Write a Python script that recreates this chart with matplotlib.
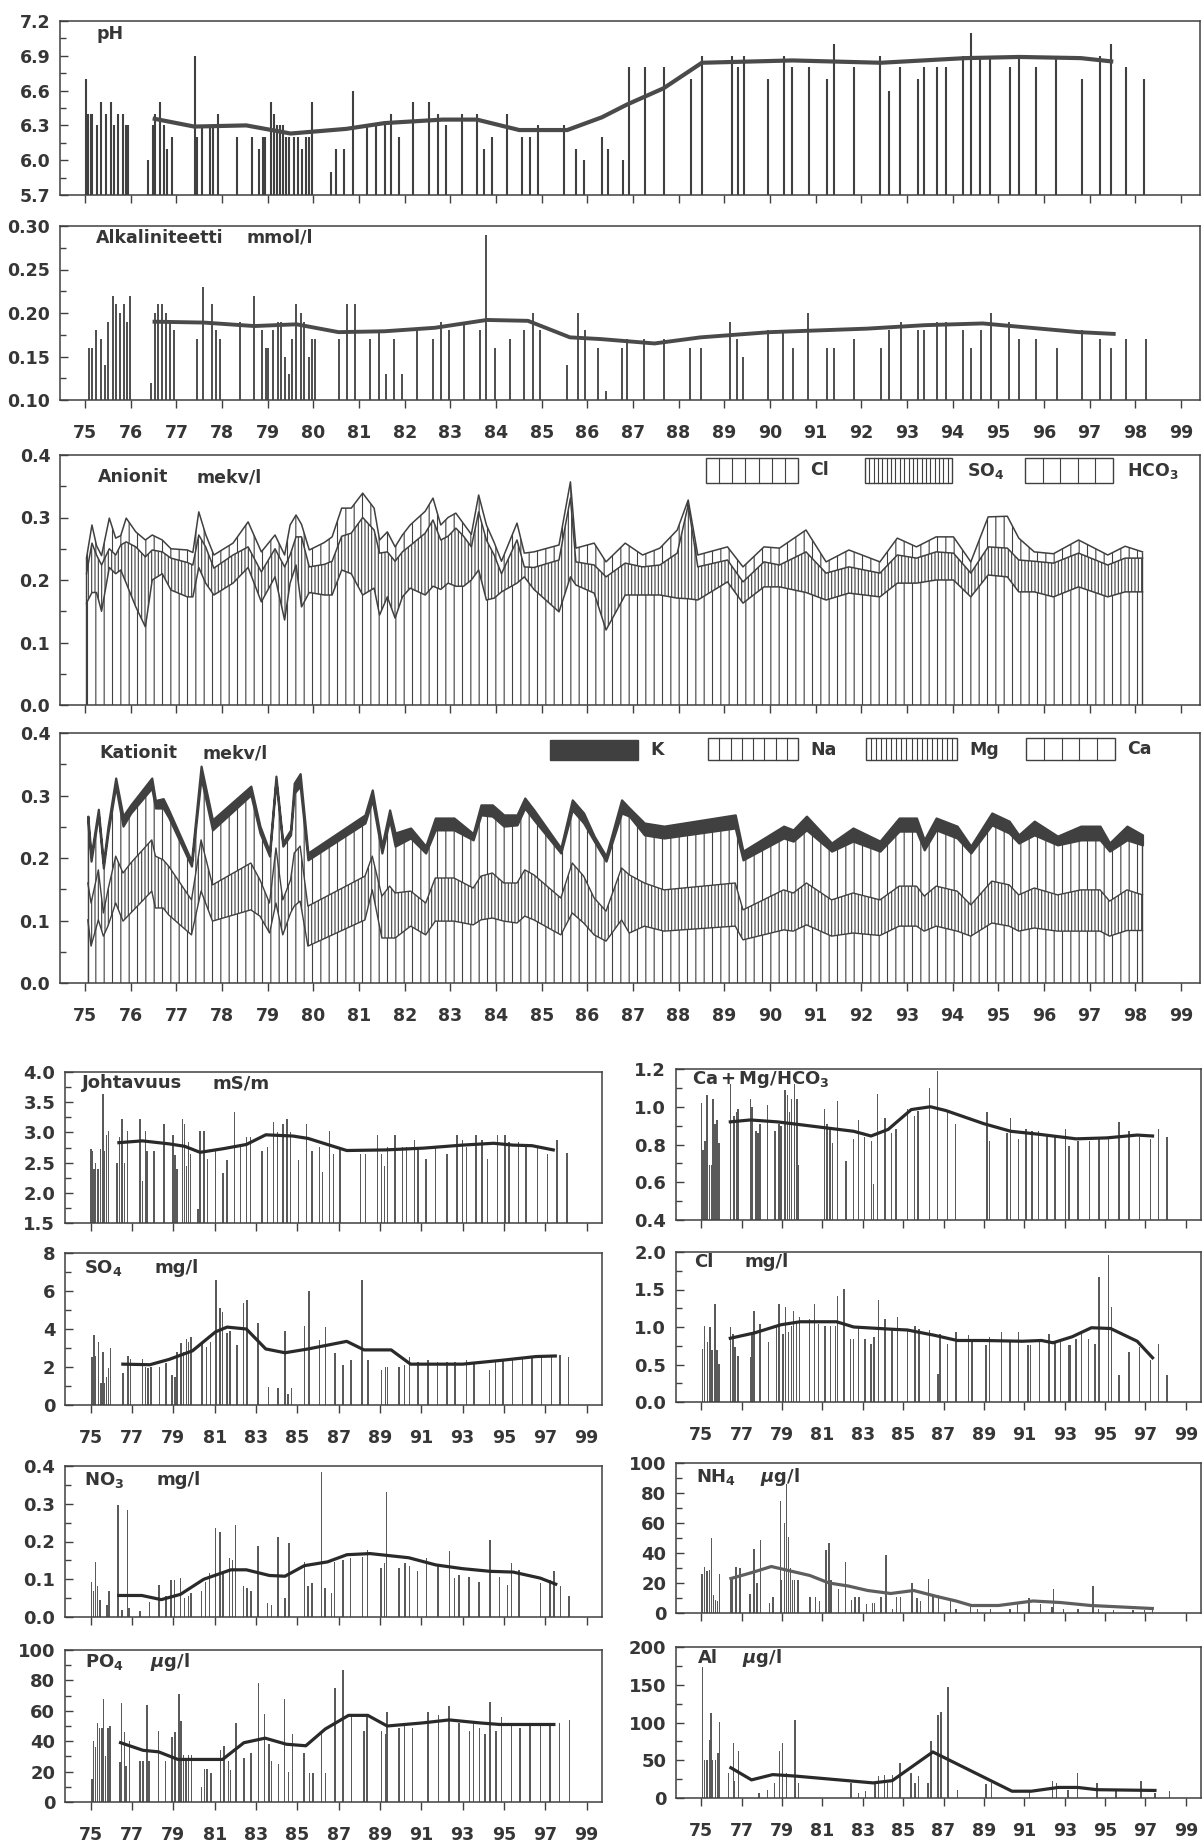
import numpy as np
import matplotlib
matplotlib.use("Agg")
import matplotlib.pyplot as plt
from matplotlib.patches import Rectangle
from matplotlib.lines import Line2D

W, H = 1202, 1843
INK = "#404040"
TXT = "#363636"
BAR = "#5a5a5a"
TREND = "#2a2a2a"

plt.rcParams.update({
    "font.family": ["DejaVu Sans"],
    "font.weight": "bold",
    "hatch.linewidth": 0.8,
    "hatch.color": INK,
    "mathtext.fontset": "dejavusans",
})

# ---------------- pH ----------------
ph_year = [75.01, 75.06, 75.12, 75.16, 75.26, 75.35, 75.45, 75.56, 75.63, 75.73, 75.82, 75.89, 75.95,
           76.38, 76.48, 76.54, 76.64, 76.73, 76.80, 76.90,
           77.40, 77.46, 77.55, 77.73, 77.81, 77.90,
           78.33, 78.66, 78.80, 78.90, 78.95,
           79.08, 79.14, 79.20, 79.26, 79.33, 79.39, 79.46, 79.58, 79.67, 79.75, 79.84, 79.90, 79.98,
           80.38, 80.49, 80.68, 80.87,
           81.18, 81.38, 81.56, 81.71, 81.88,
           82.19, 82.54, 82.74, 82.91,
           83.25, 83.58, 83.74, 83.92,
           84.24, 84.58, 84.75, 84.93,
           85.50, 85.75, 85.92, 86.32, 86.45, 86.78, 86.91,
           87.27, 87.69, 88.28, 88.51,
           89.17, 89.29, 89.43, 89.96, 90.30, 90.49, 90.85, 91.25, 91.41, 91.84,
           92.42, 92.60, 92.85, 93.25, 93.38, 93.65, 93.86, 94.22, 94.40, 94.61, 94.83,
           95.25, 95.46, 95.82, 96.27, 96.83, 97.23, 97.46, 97.81, 98.20]
ph_value = [6.7, 6.4, 6.4, 6.4, 6.3, 6.5, 6.4, 6.5, 6.3, 6.4, 6.4, 6.3, 6.3,
            6.0, 6.3, 6.4, 6.5, 6.3, 6.1, 6.2,
            6.9, 6.2, 6.3, 6.3, 6.3, 6.4,
            6.2, 6.2, 6.1, 6.2, 6.2,
            6.5, 6.4, 6.3, 6.3, 6.3, 6.2, 6.2, 6.2, 6.2, 6.1, 6.2, 6.2, 6.5,
            5.9, 6.1, 6.1, 6.6,
            6.3, 6.3, 6.3, 6.4, 6.2,
            6.5, 6.5, 6.4, 6.3,
            6.4, 6.4, 6.1, 6.2,
            6.4, 6.2, 6.2, 6.3,
            6.3, 6.1, 6.0, 6.2, 6.1, 6.0, 6.8,
            6.8, 6.8, 6.7, 6.9,
            6.9, 6.8, 6.9, 6.7, 6.9, 6.8, 6.8, 6.7, 7.0, 6.8,
            6.9, 6.6, 6.8, 6.7, 6.8, 6.8, 6.8, 6.9, 7.1, 6.9, 6.9,
            6.8, 6.9, 6.8, 6.9, 6.7, 6.9, 7.0, 6.8, 6.7]
ph_trend_year = [76.48, 77.39, 78.53, 79.50, 80.72, 81.56, 82.83, 83.58, 84.51, 85.56, 86.32,
                 86.87, 87.67, 88.51, 90.49, 92.43, 94.28, 95.46, 96.81, 97.52]
ph_trend = [6.36, 6.29, 6.30, 6.23, 6.27, 6.32, 6.35, 6.35, 6.26, 6.26, 6.37,
            6.48, 6.62, 6.84, 6.86, 6.84, 6.88, 6.89, 6.88, 6.85]
ph_ticks = [5.7, 6.0, 6.3, 6.6, 6.9, 7.2]

# ---------------- Alkalinity ----------------
alk_year = [75.09, 75.16, 75.24, 75.35, 75.43, 75.51, 75.60, 75.68, 75.77, 75.85, 75.92, 75.99,
            76.44, 76.52, 76.59, 76.68, 76.78, 76.85, 76.94,
            77.45, 77.59, 77.77, 77.86, 77.96,
            78.39, 78.71, 78.87, 78.97, 79.01, 79.12, 79.22, 79.29, 79.37, 79.47, 79.54, 79.63, 79.73, 79.79, 79.90, 79.98, 80.03,
            80.57, 80.74, 80.91, 81.24, 81.44, 81.60, 81.77, 81.94,
            82.26, 82.62, 82.80, 82.97, 83.29, 83.64, 83.78, 83.98,
            84.30, 84.62, 84.80, 84.97, 85.55, 85.79, 85.96,
            86.24, 86.41, 86.75, 86.87, 87.25, 87.68, 88.25, 88.48,
            89.13, 89.27, 89.41, 89.96, 90.28, 90.50, 90.83, 91.26, 91.40, 91.84,
            92.44, 92.60, 92.86, 93.24, 93.37, 93.66, 93.85, 94.23, 94.40, 94.63, 94.84,
            95.24, 95.45, 95.82, 96.28, 96.83, 97.24, 97.47, 97.80, 98.23]
alk_value = [0.16, 0.16, 0.18, 0.17, 0.14, 0.19, 0.22, 0.21, 0.20, 0.21, 0.19, 0.22,
             0.12, 0.20, 0.21, 0.21, 0.20, 0.19, 0.18,
             0.17, 0.23, 0.21, 0.18, 0.17,
             0.19, 0.22, 0.18, 0.16, 0.16, 0.18, 0.19, 0.19, 0.15, 0.13, 0.17, 0.21, 0.20, 0.19, 0.15, 0.17, 0.17,
             0.17, 0.21, 0.21, 0.17, 0.18, 0.13, 0.17, 0.13,
             0.18, 0.17, 0.19, 0.18, 0.19, 0.18, 0.29, 0.16,
             0.17, 0.18, 0.20, 0.18, 0.14, 0.20, 0.18,
             0.16, 0.11, 0.16, 0.17, 0.17, 0.17, 0.16, 0.16,
             0.19, 0.17, 0.15, 0.18, 0.18, 0.16, 0.20, 0.16, 0.16, 0.17,
             0.16, 0.18, 0.19, 0.18, 0.18, 0.19, 0.19, 0.18, 0.16, 0.18, 0.20,
             0.19, 0.17, 0.17, 0.16, 0.18, 0.17, 0.16, 0.17, 0.17]
alk_trend_year = [76.52, 77.60, 78.70, 79.63, 80.55, 81.56, 82.66, 83.80, 84.70, 85.62, 86.30,
                  87.47, 88.48, 90.00, 92.12, 93.39, 94.66, 95.50, 96.77, 97.53]
alk_trend = [0.190, 0.189, 0.185, 0.187, 0.178, 0.179, 0.183, 0.192, 0.191, 0.172, 0.170,
             0.165, 0.172, 0.178, 0.182, 0.186, 0.188, 0.184, 0.178, 0.176]
alk_ticks = [0.10, 0.15, 0.20, 0.25, 0.30]

# ---------------- Anions (mekv/l) ----------------
anion_year = [75.03, 75.15, 75.25, 75.36, 75.53, 75.67, 75.78, 75.90, 76.11, 76.32, 76.47, 76.69, 76.88,
              77.24, 77.36, 77.49, 77.64, 77.82, 78.24, 78.57, 78.86, 79.16, 79.37, 79.49, 79.62, 79.74,
              79.91, 80.24, 80.41, 80.62, 80.83, 81.08, 81.33, 81.45, 81.62, 81.79, 81.95, 82.12, 82.45,
              82.62, 82.79, 82.95, 83.12, 83.29, 83.46, 83.62, 83.79, 83.96, 84.12, 84.46, 84.62, 84.83,
              85.38, 85.63, 85.75, 86.15, 86.41, 86.83, 87.21, 87.59, 87.97, 88.21, 88.42, 89.07, 89.41,
              89.87, 90.21, 90.79, 91.23, 91.73, 92.41, 92.79, 93.21, 93.64, 94.02, 94.40, 94.78, 95.20,
              95.45, 95.79, 96.21, 96.76, 97.40, 97.78, 98.16]
hco3 = [0.163, 0.180, 0.180, 0.150, 0.220, 0.210, 0.216, 0.195, 0.157, 0.125, 0.200, 0.210, 0.184,
        0.173, 0.173, 0.220, 0.195, 0.176, 0.195, 0.220, 0.165, 0.205, 0.136, 0.195, 0.224, 0.157,
        0.180, 0.176, 0.176, 0.216, 0.210, 0.176, 0.187, 0.144, 0.173, 0.139, 0.173, 0.187, 0.176,
        0.190, 0.185, 0.195, 0.190, 0.190, 0.200, 0.216, 0.168, 0.171, 0.181, 0.195, 0.205, 0.185,
        0.149, 0.205, 0.192, 0.179, 0.120, 0.176, 0.176, 0.176, 0.171, 0.170, 0.168, 0.197, 0.163,
        0.189, 0.189, 0.180, 0.168, 0.179, 0.173, 0.195, 0.195, 0.200, 0.200, 0.173, 0.208, 0.205,
        0.181, 0.181, 0.173, 0.189, 0.173, 0.181, 0.181]
so4_eq = [0.047, 0.079, 0.060, 0.074, 0.030, 0.030, 0.040, 0.066, 0.096, 0.112, 0.048, 0.035, 0.051,
          0.055, 0.051, 0.052, 0.058, 0.043, 0.045, 0.033, 0.048, 0.045, 0.085, 0.045, 0.045, 0.112,
          0.041, 0.049, 0.054, 0.054, 0.065, 0.124, 0.093, 0.099, 0.072, 0.091, 0.072, 0.068, 0.099,
          0.106, 0.079, 0.075, 0.093, 0.080, 0.053, 0.093, 0.096, 0.069, 0.029, 0.069, 0.016, 0.035,
          0.083, 0.126, 0.037, 0.045, 0.085, 0.051, 0.045, 0.048, 0.072, 0.150, 0.053, 0.035, 0.034,
          0.040, 0.035, 0.065, 0.043, 0.042, 0.038, 0.045, 0.040, 0.045, 0.043, 0.038, 0.045, 0.046,
          0.051, 0.049, 0.054, 0.054, 0.051, 0.054, 0.054]
cl_eq = [0.025, 0.029, 0.015, 0.015, 0.049, 0.027, 0.015, 0.038, 0.024, 0.027, 0.024, 0.019, 0.015,
         0.020, 0.020, 0.037, 0.020, 0.021, 0.019, 0.040, 0.032, 0.022, 0.019, 0.048, 0.035, 0.020,
         0.027, 0.035, 0.039, 0.045, 0.040, 0.039, 0.035, 0.021, 0.032, 0.023, 0.027, 0.033, 0.035,
         0.035, 0.024, 0.030, 0.024, 0.020, 0.020, 0.027, 0.024, 0.020, 0.020, 0.027, 0.022, 0.025,
         0.024, 0.026, 0.022, 0.035, 0.024, 0.032, 0.019, 0.027, 0.037, 0.008, 0.019, 0.021, 0.024,
         0.024, 0.027, 0.035, 0.018, 0.027, 0.018, 0.027, 0.018, 0.024, 0.026, 0.018, 0.048, 0.051,
         0.035, 0.015, 0.015, 0.021, 0.016, 0.019, 0.010]

# ---------------- Cations (mekv/l) ----------------
cation_year = [75.06, 75.13, 75.29, 75.40, 75.50, 75.67, 75.83, 76.00, 76.46, 76.54, 76.71, 76.83,
               77.33, 77.54, 77.79, 78.63, 78.83, 79.04, 79.18, 79.33, 79.50, 79.58, 79.71, 79.88,
               81.13, 81.29, 81.50, 81.67, 81.79, 82.13, 82.46, 82.67, 83.08, 83.50, 83.67, 83.92,
               84.17, 84.46, 84.63, 84.83, 85.42, 85.67, 85.92, 86.15, 86.41, 86.75, 86.92, 87.25,
               87.68, 89.24, 89.41, 90.30, 90.51, 90.80, 91.35, 91.82, 92.41, 92.83, 93.21, 93.38,
               93.64, 94.10, 94.40, 94.86, 95.24, 95.45, 95.79, 96.30, 96.81, 97.23, 97.44, 97.82, 98.16]
ca_eq = [0.101, 0.059, 0.101, 0.075, 0.091, 0.128, 0.099, 0.112, 0.147, 0.120, 0.120, 0.109,
         0.077, 0.147, 0.099, 0.117, 0.107, 0.080, 0.128, 0.077, 0.112, 0.123, 0.131, 0.059,
         0.101, 0.149, 0.072, 0.072, 0.072, 0.091, 0.077, 0.099, 0.099, 0.093, 0.101, 0.104,
         0.099, 0.096, 0.107, 0.101, 0.077, 0.112, 0.096, 0.077, 0.067, 0.101, 0.080, 0.091,
         0.083, 0.091, 0.069, 0.085, 0.083, 0.093, 0.075, 0.080, 0.076, 0.091, 0.091, 0.083,
         0.091, 0.083, 0.075, 0.096, 0.091, 0.083, 0.088, 0.083, 0.083, 0.083, 0.075, 0.084, 0.084]
mg_eq = [0.059, 0.069, 0.080, 0.037, 0.058, 0.075, 0.077, 0.080, 0.082, 0.083, 0.077, 0.078,
         0.056, 0.082, 0.058, 0.075, 0.058, 0.048, 0.088, 0.056, 0.053, 0.085, 0.088, 0.064,
         0.070, 0.054, 0.067, 0.083, 0.072, 0.056, 0.051, 0.069, 0.069, 0.059, 0.070, 0.072,
         0.061, 0.064, 0.074, 0.072, 0.059, 0.080, 0.075, 0.059, 0.048, 0.083, 0.093, 0.069,
         0.066, 0.069, 0.048, 0.064, 0.061, 0.067, 0.058, 0.064, 0.057, 0.064, 0.064, 0.056,
         0.064, 0.064, 0.050, 0.067, 0.066, 0.058, 0.064, 0.058, 0.066, 0.066, 0.056, 0.065, 0.057]
na_eq = [0.097, 0.067, 0.088, 0.072, 0.091, 0.112, 0.075, 0.080, 0.083, 0.077, 0.083, 0.078,
         0.054, 0.099, 0.088, 0.109, 0.075, 0.075, 0.107, 0.086, 0.072, 0.096, 0.096, 0.074,
         0.085, 0.090, 0.069, 0.106, 0.075, 0.085, 0.080, 0.077, 0.077, 0.077, 0.098, 0.091,
         0.091, 0.093, 0.099, 0.088, 0.072, 0.085, 0.085, 0.091, 0.080, 0.088, 0.094, 0.077,
         0.083, 0.088, 0.080, 0.083, 0.083, 0.085, 0.078, 0.083, 0.078, 0.088, 0.088, 0.074,
         0.090, 0.085, 0.083, 0.090, 0.083, 0.083, 0.085, 0.080, 0.080, 0.080, 0.080, 0.080, 0.080]
k_eq = [0.010, 0.008, 0.009, 0.008, 0.010, 0.013, 0.016, 0.013, 0.016, 0.012, 0.015, 0.012,
        0.008, 0.019, 0.016, 0.014, 0.011, 0.007, 0.008, 0.006, 0.008, 0.016, 0.020, 0.011,
        0.013, 0.016, 0.011, 0.016, 0.021, 0.016, 0.011, 0.019, 0.019, 0.010, 0.016, 0.018,
        0.018, 0.016, 0.016, 0.016, 0.008, 0.016, 0.016, 0.008, 0.008, 0.021, 0.013, 0.019,
        0.019, 0.021, 0.014, 0.019, 0.018, 0.022, 0.013, 0.021, 0.016, 0.021, 0.021, 0.016,
        0.019, 0.019, 0.011, 0.019, 0.019, 0.013, 0.022, 0.014, 0.022, 0.022, 0.013, 0.022, 0.016]
ion_ticks = [0.0, 0.1, 0.2, 0.3, 0.4]

# ---------------- Conductivity (mS/m) ----------------
cond_year = [75.00, 75.06, 75.15, 75.24, 75.34, 75.47, 75.58, 75.65, 75.77, 75.86,
             76.27, 76.40, 76.51, 76.64, 76.78, 77.39, 77.49, 77.64, 77.73, 78.05, 78.55,
             78.98, 79.07, 79.17, 79.45, 79.54, 79.64, 79.73, 79.82,
             80.20, 80.29, 80.48, 80.66, 81.04, 81.41, 81.60, 81.97, 82.25, 82.53, 82.72,
             83.28, 83.56, 83.84, 84.03, 84.31, 84.50, 84.68, 85.06, 85.43, 85.71,
             86.08, 86.23, 86.55, 86.74, 87.07, 88.05, 88.29, 88.89, 89.07, 89.22, 89.36, 89.73,
             90.10, 90.29, 90.66, 90.85, 91.22, 91.69, 92.25, 92.72, 93.00, 93.19, 93.65, 93.93,
             94.21, 94.68, 95.06, 95.24, 95.71, 96.08, 96.64, 97.11, 97.58, 98.05]
cond_value = [2.73, 2.70, 2.40, 2.50, 2.40, 2.73, 3.64, 2.70, 2.95, 3.03,
              2.50, 2.92, 3.23, 2.50, 3.03, 3.23, 2.20, 3.03, 2.70, 2.70, 3.14,
              2.95, 2.62, 2.40, 3.23, 3.14, 2.45, 2.84, 2.65,
              1.74, 3.03, 3.03, 2.56, 2.70, 2.32, 2.54, 3.34, 2.76, 2.92, 2.92,
              2.70, 2.76, 3.17, 3.00, 3.14, 3.23, 3.00, 2.54, 3.14, 2.70,
              2.76, 2.34, 3.03, 2.65, 2.73, 2.65, 2.65, 2.95, 2.65, 2.45, 2.76, 2.95,
              2.76, 2.76, 2.87, 2.76, 2.56, 2.76, 2.65, 2.95, 2.87, 2.76, 2.95, 2.87,
              2.56, 2.95, 2.95, 2.84, 2.84, 2.76, 2.76, 2.65, 2.87, 2.66]
cond_trend_year = [76.36, 77.49, 78.79, 79.54, 80.29, 81.41, 82.53, 83.47, 84.78, 85.52,
                   87.39, 89.26, 91.13, 93.00, 94.50, 95.43, 96.36, 97.39]
cond_trend = [2.83, 2.86, 2.81, 2.77, 2.67, 2.73, 2.80, 2.96, 2.94, 2.90,
              2.70, 2.71, 2.74, 2.79, 2.82, 2.79, 2.78, 2.71]
cond_ticks = [1.5, 2.0, 2.5, 3.0, 3.5, 4.0]

# ---------------- SO4 (mg/l) ----------------
so4_year = [75.06, 75.15, 75.24, 75.37, 75.49, 75.58, 75.67, 75.77, 75.86, 75.95,
            76.55, 76.79, 76.93, 77.49, 77.64, 77.77, 77.92, 78.33, 78.64, 78.93,
            79.07, 79.17, 79.36, 79.50, 79.64, 79.73, 79.86,
            80.38, 80.61, 80.79, 81.07, 81.26, 81.37, 81.60, 81.73, 82.07, 82.38, 82.57,
            83.09, 83.60, 84.07, 84.40, 84.55, 84.72, 85.34, 85.56,
            86.08, 86.36, 86.83, 87.21, 87.60, 88.14, 88.42, 89.07, 89.26, 89.36, 89.92,
            90.20, 90.44, 90.85, 91.32, 91.79, 92.25, 92.63, 93.19, 93.56,
            94.31, 94.59, 94.96, 95.43, 95.90, 96.36, 96.83, 97.30, 97.71, 98.14]
so4_value = [2.55, 3.70, 2.60, 3.34, 1.15, 2.80, 1.15, 1.50, 1.93, 3.00,
             1.67, 2.60, 2.40, 2.40, 2.00, 1.93, 2.00, 2.00, 2.20, 1.58,
             1.50, 2.80, 3.25, 2.80, 3.50, 3.34, 3.60,
             3.25, 3.07, 3.34, 6.60, 5.10, 4.90, 3.78, 3.87, 3.16, 5.36, 5.54,
             4.30, 0.97, 0.88, 3.87, 0.60, 0.88, 4.17, 5.98,
             3.43, 4.13, 2.72, 2.10, 2.37, 6.60, 2.37, 1.85, 2.02, 2.02, 2.02,
             2.10, 2.55, 2.28, 2.37, 2.28, 2.28, 2.28, 2.37, 2.28,
             1.85, 2.37, 2.40, 2.37, 2.46, 2.55, 2.55, 2.64, 2.64, 2.55]
so4_trend_year = [76.55, 77.86, 78.79, 79.92, 81.04, 81.60, 82.53, 83.47, 84.40, 85.52,
                  87.39, 88.23, 89.54, 90.48, 93.00, 94.87, 96.55, 97.49]
so4_trend = [2.15, 2.12, 2.40, 2.85, 3.85, 4.10, 4.00, 2.95, 2.75, 2.95,
             3.35, 2.90, 2.90, 2.15, 2.15, 2.35, 2.55, 2.58]
so4_ticks = [0, 2, 4, 6, 8]

# ---------------- (Ca+Mg)/HCO3 ----------------
camg_year = [75.00, 75.09, 75.19, 75.28, 75.40, 75.53, 75.59, 75.68, 75.78, 75.87,
             76.44, 76.63, 76.76, 76.82, 77.43, 77.52, 77.71, 77.81, 77.90, 78.28, 78.66, 78.85, 78.95,
             79.14, 79.27, 79.36, 79.46, 79.61, 79.74, 79.82,
             81.09, 81.22, 81.38, 81.51, 81.76, 82.17, 82.55, 82.78, 83.08, 83.42, 83.54, 83.73,
             84.11, 84.41, 84.64, 85.21, 85.55, 85.74, 86.31, 86.69, 87.20, 87.58,
             89.16, 89.29, 90.14, 90.33, 90.71, 91.09, 91.38, 91.70, 92.13, 92.51, 93.05, 93.22, 93.65,
             94.22, 94.70, 95.17, 95.69, 96.18, 96.69, 97.26, 97.64, 98.06]
camg_value = [1.02, 0.77, 0.82, 1.06, 0.69, 0.69, 1.04, 0.91, 0.93, 0.81,
              1.12, 0.95, 0.97, 0.99, 1.04, 1.00, 0.87, 0.86, 0.91, 1.01, 0.87, 0.91, 0.90,
              1.09, 1.06, 0.97, 1.04, 1.12, 1.04, 0.69,
              0.99, 0.91, 0.88, 0.81, 1.03, 0.71, 0.83, 0.93, 0.84, 0.82, 0.59, 1.07,
              0.94, 0.86, 0.88, 0.99, 0.95, 0.98, 1.10, 1.19, 0.97, 0.91,
              0.97, 0.82, 0.86, 0.94, 0.83, 0.88, 0.87, 0.87, 0.85, 0.85, 0.88, 0.79, 0.82,
              0.82, 0.83, 0.84, 0.92, 0.87, 0.84, 0.83, 0.88, 0.84]
camg_trend_year = [76.44, 77.43, 78.76, 79.90, 81.41, 82.55, 83.41, 84.26, 85.40, 86.35,
                   87.11, 89.00, 90.33, 91.66, 93.56, 95.08, 96.59, 97.35]
camg_trend = [0.920, 0.930, 0.920, 0.905, 0.885, 0.870, 0.845, 0.880, 0.985, 1.000,
              0.980, 0.910, 0.870, 0.855, 0.830, 0.835, 0.850, 0.845]
camg_ticks = [0.4, 0.6, 0.8, 1.0, 1.2]

# ---------------- Cl (mg/l) ----------------
cl_year = [75.06, 75.15, 75.30, 75.44, 75.53, 75.68, 75.78, 75.87,
           76.44, 76.57, 76.67, 76.82, 77.43, 77.52, 77.62, 77.90, 78.32, 78.72, 78.85,
           79.04, 79.17, 79.33, 79.46, 79.57, 79.71, 79.86,
           80.37, 80.62, 80.81, 81.13, 81.41, 81.64, 81.76, 82.08, 82.40, 82.55, 82.78,
           83.12, 83.41, 83.56, 83.79, 84.11, 84.45, 84.73, 85.21, 85.59, 85.78,
           86.31, 86.73, 86.82, 87.20, 87.62, 88.24, 88.40, 89.10, 89.29, 89.86,
           90.29, 90.71, 91.19, 91.32, 91.76, 92.23, 92.51, 92.80, 93.18, 93.27, 93.56, 93.84,
           94.17, 94.51, 94.70, 95.17, 95.32, 95.69, 96.18, 96.69, 97.26, 97.64, 98.06]
cl_value = [0.71, 1.02, 0.80, 1.00, 0.69, 1.31, 0.69, 0.51,
            1.00, 0.91, 0.73, 0.62, 0.60, 0.91, 1.22, 1.04, 0.80, 1.00, 1.31,
            0.91, 1.27, 0.93, 1.02, 1.22, 1.04, 1.13,
            1.11, 1.31, 1.04, 1.02, 1.02, 1.02, 1.42, 1.51, 0.84, 0.84, 1.02,
            0.84, 0.78, 0.87, 1.36, 1.11, 0.96, 1.13, 0.96, 1.02, 0.98,
            0.96, 0.38, 0.91, 0.78, 0.93, 0.89, 0.82, 0.76, 0.87, 0.93,
            0.80, 0.93, 0.76, 0.76, 0.82, 0.91, 0.82, 0.82, 0.76, 0.76, 0.84, 0.93,
            0.84, 0.78, 1.67, 1.96, 1.27, 0.36, 0.67, 0.73, 0.56, 0.78, 0.36]
cl_trend_year = [76.44, 77.62, 78.95, 79.90, 81.70, 82.55, 84.45, 85.21, 86.54, 87.68,
                 89.00, 90.90, 91.85, 92.42, 93.37, 94.32, 95.27, 96.59, 97.35]
cl_trend = [0.85, 0.92, 1.03, 1.07, 1.07, 1.00, 0.97, 0.96, 0.89, 0.82,
            0.82, 0.81, 0.82, 0.79, 0.87, 0.99, 0.98, 0.81, 0.59]
cl_ticks = [0.0, 0.5, 1.0, 1.5, 2.0]

# ---------------- NO3 (mg/l) ----------------
no3_year = [75.04, 75.13, 75.22, 75.32, 75.45, 75.79, 75.88,
            76.31, 76.50, 76.78, 76.84, 77.38, 77.85, 78.31, 78.63, 78.88,
            79.06, 79.34, 79.53, 79.72, 79.85,
            80.37, 80.56, 80.75, 81.03, 81.25, 81.40, 81.72, 81.87, 82.00, 82.38, 82.57, 82.75,
            83.09, 83.56, 83.75, 84.06, 84.40, 84.59, 85.34, 85.52, 85.71,
            86.18, 86.33, 86.65, 86.80, 87.21, 87.58, 88.15, 88.39, 89.04, 89.21, 89.31, 89.93,
            90.21, 90.43, 90.81, 91.24, 91.80, 92.36, 92.60, 92.83, 93.30, 93.80,
            94.33, 94.79, 95.17, 95.36, 95.73, 96.76, 97.23, 97.42, 97.75, 98.16]
no3_value = [0.094, 0.068, 0.147, 0.081, 0.046, 0.033, 0.068,
             0.297, 0.019, 0.284, 0.024, 0.015, 0.041, 0.085, 0.055, 0.099,
             0.099, 0.103, 0.050, 0.055, 0.063,
             0.068, 0.094, 0.116, 0.235, 0.226, 0.116, 0.156, 0.152, 0.244, 0.081, 0.077, 0.068,
             0.187, 0.037, 0.033, 0.213, 0.050, 0.196, 0.147, 0.081, 0.090,
             0.383, 0.077, 0.063, 0.147, 0.152, 0.156, 0.160, 0.178, 0.130, 0.143, 0.332, 0.130,
             0.143, 0.134, 0.121, 0.156, 0.138, 0.174, 0.103, 0.112, 0.107, 0.094,
             0.204, 0.107, 0.085, 0.143, 0.125, 0.090, 0.099, 0.121, 0.081, 0.055]
no3_trend_year = [76.35, 77.47, 78.41, 79.34, 80.47, 81.78, 82.53, 83.65, 84.40, 85.34,
                  86.46, 87.40, 88.52, 90.39, 91.70, 93.01, 94.33, 95.45, 96.76, 97.51]
no3_trend = [0.057, 0.057, 0.046, 0.060, 0.100, 0.125, 0.125, 0.110, 0.108, 0.136,
             0.146, 0.165, 0.168, 0.157, 0.138, 0.128, 0.121, 0.119, 0.103, 0.087]
no3_ticks = [0.0, 0.1, 0.2, 0.3, 0.4]

# ---------------- NH4 (ug/l) ----------------
nh4_year = [75.04, 75.17, 75.29, 75.42, 75.51, 75.61, 75.71, 75.80, 75.90,
            76.47, 76.56, 76.72, 76.91, 77.42, 77.61, 77.76, 77.94, 78.37, 78.56, 78.93, 78.98,
            79.12, 79.23, 79.33, 79.42, 79.52, 79.61, 79.80,
            80.38, 80.66, 80.85, 81.18, 81.33, 81.42, 81.81, 82.13, 82.43, 82.62, 82.82,
            83.18, 83.47, 83.58, 83.90, 84.15, 84.47, 84.66, 84.86, 85.43, 85.68, 85.87,
            86.25, 86.48, 86.76, 87.33, 87.62, 88.34, 88.67, 89.33, 90.29, 90.67,
            91.24, 91.81, 92.38, 92.44, 92.95, 93.66, 94.41, 94.67, 95.43, 96.39, 96.96, 97.34]
nh4_value = [26, 31, 28, 29, 50, 12, 9, 8, 26,
             22, 24, 31, 30, 13, 43, 20, 49, 7, 11, 75, 22,
             60, 86, 51, 30, 22, 22, 22,
             11, 11, 8, 42, 47, 22, 16, 34, 9, 11, 11,
             6, 7, 7, 11, 39, 3, 11, 11, 20, 10, 8,
             23, 12, 12, 8, 3, 4, 3, 3, 3, 7,
             10, 6, 4, 16, 3, 3, 18, 3, 2, 2, 2, 2]
nh4_trend_year = [76.47, 77.52, 78.47, 79.42, 80.38, 81.33, 82.28, 83.24, 84.38, 85.52,
                  86.67, 87.62, 88.38, 89.72, 91.43, 92.77, 94.29, 95.82, 97.34]
nh4_trend = [23, 27, 31, 28, 25, 20, 18, 15, 13, 15, 11, 8, 5, 5, 8, 7, 5, 4, 3]
nh4_ticks = [0, 20, 40, 60, 80, 100]

# ---------------- PO4 (ug/l) ----------------
po4_year = [75.06, 75.13, 75.24, 75.32, 75.43, 75.54, 75.62, 75.71, 75.83, 75.92,
            76.41, 76.48, 76.63, 76.71, 76.88, 77.38, 77.53, 77.72, 77.81, 78.28, 78.62, 78.94,
            79.07, 79.26, 79.37, 79.50, 79.60, 79.73, 79.88,
            80.35, 80.50, 80.63, 80.82, 81.29, 81.44, 81.66, 81.75, 82.04, 82.41, 82.75,
            83.11, 83.41, 83.63, 83.76, 84.10, 84.38, 84.57, 84.76, 85.32, 85.60, 85.75,
            86.16, 86.35, 86.82, 87.20, 87.61, 88.23, 88.38, 89.07, 89.26, 89.35, 89.92,
            90.20, 90.57, 91.32, 91.83, 92.35, 92.82, 93.33, 93.52, 93.82,
            94.08, 94.32, 94.61, 94.89, 95.36, 95.77, 96.26, 96.76, 97.23, 97.70, 98.17]
po4_value = [15, 40, 36, 52, 49, 49, 68, 30, 49, 50,
             26, 65, 46, 24, 40, 27, 27, 64, 27, 47, 27, 43,
             46, 71, 53, 31, 29, 31, 31,
             10, 22, 22, 19, 34, 37, 27, 21, 52, 29, 32,
             78, 58, 38, 27, 25, 68, 20, 45, 32, 19, 19,
             45, 19, 75, 87, 57, 47, 56, 47, 45, 59, 49,
             52, 49, 59, 57, 63, 52, 47, 51, 49,
             45, 66, 47, 56, 52, 49, 52, 51, 52, 52, 54]
po4_trend_year = [76.44, 77.53, 78.28, 79.22, 80.35, 81.38, 82.41, 83.44, 84.47, 85.41,
                  86.35, 87.48, 88.41, 89.35, 91.04, 92.35, 93.86, 94.80, 97.42]
po4_trend = [39, 34, 33, 28, 28, 28, 39, 42, 38, 37, 48, 57, 57, 50, 52, 54, 52, 51, 51]
po4_ticks = [0, 20, 40, 60, 80, 100]

# ---------------- Al (ug/l) ----------------
al_year = [75.06, 75.15, 75.29, 75.40, 75.48, 75.57, 75.71, 75.82, 75.90,
           76.34, 76.59, 76.66, 76.85, 77.87, 78.29, 78.63, 78.88, 79.03, 79.21, 79.65, 79.82,
           82.42, 82.80, 83.13, 83.60, 83.79, 84.08, 84.23, 84.46, 84.84, 85.38, 85.58, 85.77,
           86.23, 86.38, 86.72, 86.87, 87.22, 87.68, 89.11, 89.38,
           91.25, 92.40, 92.59, 93.16, 93.64, 94.59, 95.55, 96.77, 97.47, 98.19]
al_value = [174, 50, 50, 77, 112, 50, 50, 59, 101,
            33, 73, 22, 62, 7, 11, 20, 62, 73, 33, 103, 20,
            20, 7, 9, 20, 29, 31, 20, 31, 46, 33, 20, 29,
            20, 75, 110, 114, 147, 11, 18, 20,
            9, 22, 20, 11, 33, 20, 11, 22, 7, 9]
al_trend_year = [76.47, 77.49, 78.54, 79.68, 83.51, 84.46, 86.47, 90.39, 91.35, 92.69,
                 93.64, 94.60, 97.47]
al_trend = [40, 24, 31, 29, 20, 23, 61, 9, 9, 14, 14, 11, 10]
al_ticks = [0, 50, 100, 150, 200]

years_all = list(range(75, 100))
years_odd = list(range(75, 100, 2))

# =====================================================================
fig = plt.figure(figsize=(W / 100, H / 100), dpi=100)
fig.patch.set_facecolor("white")


def axes_px(left, top, right, bottom):
    return fig.add_axes([left / W, 1 - bottom / H, (right - left) / W, (bottom - top) / H])


def frame(ax, xlim, ticks, fmt, xticks, xlabels, ysize=12.5, xsize=12.5):
    ax.set_xlim(*xlim)
    ax.set_ylim(ticks[0], ticks[-1])
    for s in ax.spines.values():
        s.set_color(INK)
        s.set_linewidth(1.1)
    ax.set_yticks(ticks)
    ax.set_yticklabels([fmt.format(v) for v in ticks], fontsize=ysize,
                       fontweight="bold", color=TXT)
    mids = [(a + b) / 2 for a, b in zip(ticks[:-1], ticks[1:])]
    ax.set_yticks(mids, minor=True)
    ax.tick_params(axis="y", which="both", direction="in", color=INK, width=1.0)
    ax.tick_params(axis="y", which="major", length=6, pad=7)
    ax.tick_params(axis="y", which="minor", length=4)
    ax.set_xticks(xticks)
    if xlabels:
        ax.set_xticklabels([str(t) for t in xticks], fontsize=xsize,
                           fontweight="bold", color=TXT)
    else:
        ax.set_xticklabels([])
    ax.tick_params(axis="x", which="major", direction="out", length=6, width=1.0,
                   color=INK, pad=11)
    ax.tick_params(axis="x", which="minor", length=0)


def text_px(x, y, s, size=12.5):
    fig.text(x / W, 1 - y / H, s, fontsize=size, fontweight="bold", color=TXT,
             ha="left", va="center")


def legend_box(x0, y0, x1, y1, ncells, filled=False):
    fig.add_artist(Rectangle((x0 / W, 1 - y1 / H), (x1 - x0) / W, (y1 - y0) / H,
                             transform=fig.transFigure,
                             facecolor=INK if filled else "white",
                             edgecolor=INK, linewidth=1.0))
    if not filled:
        for i in range(1, ncells):
            x = x0 + (x1 - x0) * i / ncells
            fig.add_artist(Line2D([x / W, x / W], [1 - y0 / H, 1 - y1 / H],
                                  transform=fig.transFigure, color=INK, lw=0.8))


TOP_X = (74.45, 99.42)
SMALL_X = (73.75, 99.75)

# ---- pH ----
ax = axes_px(60, 21, 1200, 195)
frame(ax, TOP_X, ph_ticks, "{:.1f}", years_all, False)
ax.vlines(ph_year, ph_ticks[0], ph_value, color=INK, lw=1.5)
ax.plot(ph_trend_year, ph_trend, color="#4a4a4a", lw=3.0, solid_capstyle="butt")
text_px(96, 34, "pH")

# ---- Alkalinity ----
ax = axes_px(60, 226, 1200, 400)
frame(ax, TOP_X, alk_ticks, "{:.2f}", years_all, True)
ax.vlines(alk_year, alk_ticks[0], alk_value, color=INK, lw=1.3)
ax.plot(alk_trend_year, alk_trend, color="#4a4a4a", lw=2.8)
text_px(96, 238, "Alkaliniteetti")
text_px(246, 238, "mmol/l")

# ---- Anions ----
ax = axes_px(60, 455, 1200, 705)
frame(ax, TOP_X, ion_ticks, "{:.1f}", years_all, False)
a_cum = np.cumsum(np.vstack([hco3, so4_eq, cl_eq]), axis=0)
a_base = np.zeros(len(anion_year))
for lower, upper, hatch in [(a_base, a_cum[0], "||"), (a_cum[0], a_cum[1], "|||||"),
                            (a_cum[1], a_cum[2], "||")]:
    ax.fill_between(anion_year, lower, upper, facecolor="white", edgecolor=INK,
                    hatch=hatch, linewidth=0)
for row in a_cum:
    ax.plot(anion_year, row, color=INK, lw=1.1)
ax.vlines([anion_year[0], anion_year[-1]], 0, [a_cum[2][0], a_cum[2][-1]], color=INK, lw=1.0)
text_px(98, 477, "Anionit")
text_px(196, 477, "mekv/l")
legend_box(706, 458, 798, 483, 7)
text_px(810, 470, "Cl")
legend_box(865, 458, 952, 483, 20)
text_px(967, 471, r"SO$_\mathbf{4}$")
legend_box(1025, 458, 1113, 483, 5)
text_px(1127, 471, r"HCO$_\mathbf{3}$")

# ---- Cations ----
ax = axes_px(60, 733, 1200, 983)
frame(ax, TOP_X, ion_ticks, "{:.1f}", years_all, True)
c_cum = np.cumsum(np.vstack([ca_eq, mg_eq, na_eq, k_eq]), axis=0)
c_base = np.zeros(len(cation_year))
for lower, upper, hatch in [(c_base, c_cum[0], "||"), (c_cum[0], c_cum[1], "|||||"),
                            (c_cum[1], c_cum[2], "||")]:
    ax.fill_between(cation_year, lower, upper, facecolor="white", edgecolor=INK,
                    hatch=hatch, linewidth=0)
ax.fill_between(cation_year, c_cum[2], c_cum[3], facecolor=INK, edgecolor=INK, linewidth=1.6)
for row in c_cum[:2]:
    ax.plot(cation_year, row, color=INK, lw=1.0)
ax.vlines([cation_year[0], cation_year[-1]], 0, [c_cum[2][0], c_cum[2][-1]], color=INK, lw=1.0)
text_px(99, 753, "Kationit")
text_px(202, 753, "mekv/l")
legend_box(550, 740, 638, 760, 1, filled=True)
text_px(650, 750, "K")
legend_box(708, 738, 798, 760, 8)
text_px(810, 750, "Na")
legend_box(866, 738, 957, 760, 18)
text_px(969, 750, "Mg")
legend_box(1026, 738, 1115, 760, 5)
text_px(1127, 749, "Ca")

# ---- small panels ----
small = [
    ((65, 1072, 602, 1223), cond_year, cond_value, cond_trend_year, cond_trend, cond_ticks, "{:.1f}", False,
     [(82, 1083, "Johtavuus"), (212, 1083, "mS/m")], TREND),
    ((65, 1253, 602, 1405), so4_year, so4_value, so4_trend_year, so4_trend, so4_ticks, "{:d}", True,
     [(84, 1268, r"SO$_\mathbf{4}$"), (154, 1268, "mg/l")], TREND),
    ((65, 1466, 602, 1617), no3_year, no3_value, no3_trend_year, no3_trend, no3_ticks, "{:.1f}", False,
     [(84, 1480, r"NO$_\mathbf{3}$"), (156, 1480, "mg/l")], TREND),
    ((65, 1650, 602, 1802), po4_year, po4_value, po4_trend_year, po4_trend, po4_ticks, "{:d}", True,
     [(85, 1662, r"PO$_\mathbf{4}$"), (150, 1662, r"$\mu$g/l")], TREND),
    ((676, 1069, 1201, 1220), camg_year, camg_value, camg_trend_year, camg_trend, camg_ticks, "{:.1f}", False,
     [(692, 1080, r"Ca$\,$+$\,$Mg/HCO$_\mathbf{3}$")], TREND),
    ((676, 1252, 1201, 1402), cl_year, cl_value, cl_trend_year, cl_trend, cl_ticks, "{:.1f}", True,
     [(694, 1262, "Cl"), (744, 1262, "mg/l")], TREND),
    ((676, 1463, 1201, 1613), nh4_year, nh4_value, nh4_trend_year, nh4_trend, nh4_ticks, "{:d}", False,
     [(696, 1477, r"NH$_\mathbf{4}$"), (760, 1477, r"$\mu$g/l")], "#5e5e5e"),
    ((676, 1647, 1201, 1798), al_year, al_value, al_trend_year, al_trend, al_ticks, "{:d}", True,
     [(698, 1658, "Al"), (742, 1658, r"$\mu$g/l")], TREND),
]

for box, xs, ys, txs, tys, ticks, fmt, labels, titles, tcol in small:
    ax = axes_px(*box)
    frame(ax, SMALL_X, ticks, fmt, years_odd, labels, ysize=13, xsize=12.5)
    heights = [v - ticks[0] for v in ys]
    ax.bar(xs, heights, bottom=ticks[0], width=0.07, color=BAR, linewidth=0)
    ax.plot(txs, tys, color=tcol, lw=2.3)
    for x, y, s in titles:
        text_px(x, y, s, 13)

fig.savefig("out.png", dpi=100, facecolor="white")
